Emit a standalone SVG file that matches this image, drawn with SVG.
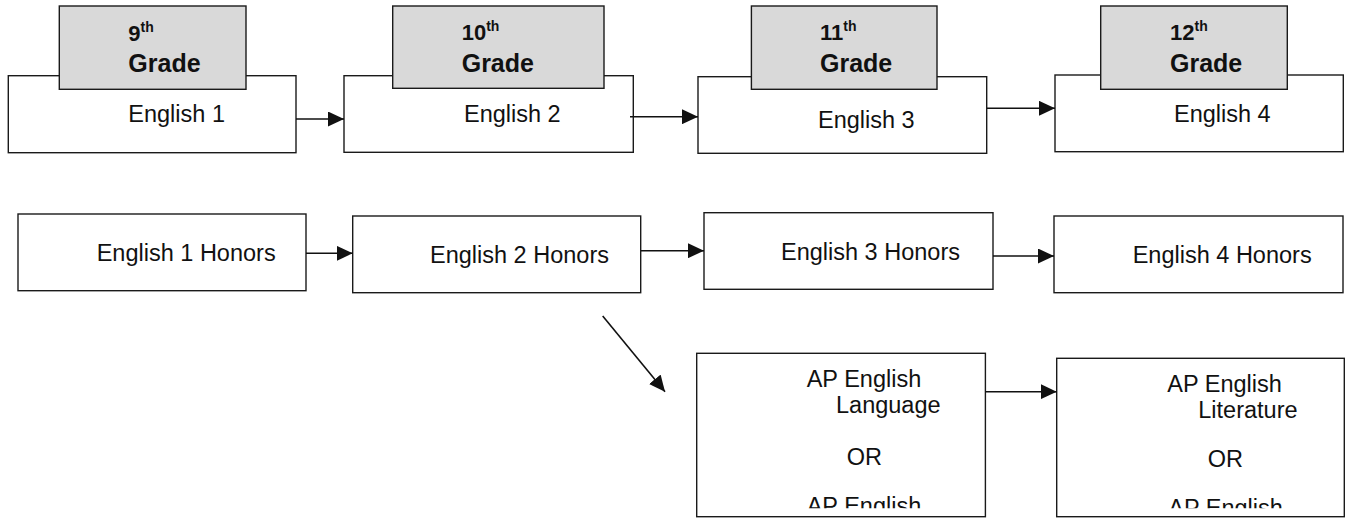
<svg xmlns="http://www.w3.org/2000/svg" width="1346" height="518" viewBox="0 0 1346 518">
<style>
.box{fill:#ffffff;stroke:#1a1a1a;stroke-width:1.4}
.hdr{fill:#d9d9d9;stroke:#1a1a1a;stroke-width:1.4}
.t{font-family:"Liberation Sans",Arial,sans-serif;font-size:23.5px;fill:#111}
.hn{font-family:"Liberation Sans",Arial,sans-serif;font-size:22px;font-weight:bold;fill:#111}
.hs{font-family:"Liberation Sans",Arial,sans-serif;font-size:14px;font-weight:bold;fill:#111}
.hg{font-family:"Liberation Sans",Arial,sans-serif;font-size:25px;font-weight:bold;fill:#111}
.c{fill:none;stroke:#111;stroke-width:1.6}
</style>
<defs>
<marker id="ah" markerUnits="userSpaceOnUse" markerWidth="16" markerHeight="15" refX="16" refY="7.5" orient="auto">
<path d="M0,0 L16,7.5 L0,15 z" fill="#111"/>
</marker>
<clipPath id="clip1"><rect x="690" y="350" width="300" height="158.3"/></clipPath>
<clipPath id="clip2"><rect x="1050" y="350" width="296" height="158.3"/></clipPath>
</defs>
<rect width="1346" height="518" fill="#ffffff"/>

<g id="english1">
<rect class="box" x="8.3" y="75.7" width="287.7" height="77"/>
<text class="t" x="128.3" y="121.7">English 1</text>
</g>
<g id="grade9">
<rect class="hdr" x="59.3" y="6" width="186.7" height="83.3"/>
<text class="hn" x="128.3" y="40.7">9<tspan class="hs" dy="-9">th</tspan></text>
<text class="hg" x="128.3" y="71.7">Grade</text>
</g>

<g id="english2">
<rect class="box" x="344" y="75.7" width="289.3" height="76.6"/>
<text class="t" x="464" y="121.7">English 2</text>
</g>
<g id="grade10">
<rect class="hdr" x="392.7" y="6" width="211.3" height="82.3"/>
<text class="hn" x="461.7" y="40">10<tspan class="hs" dy="-9">th</tspan></text>
<text class="hg" x="461.7" y="71.7">Grade</text>
</g>

<g id="english3">
<rect class="box" x="698" y="76.7" width="288.7" height="76.6"/>
<text class="t" x="818" y="128.3">English 3</text>
</g>
<g id="grade11">
<rect class="hdr" x="751.4" y="6" width="185.6" height="83.3"/>
<text class="hn" x="820" y="40">11<tspan class="hs" dy="-9">th</tspan></text>
<text class="hg" x="820" y="71.7">Grade</text>
</g>

<g id="english4">
<rect class="box" x="1055" y="75" width="288.3" height="76.7"/>
<text class="t" x="1174" y="121.7">English 4</text>
</g>
<g id="grade12">
<rect class="hdr" x="1100.7" y="6" width="186.6" height="83.3"/>
<text class="hn" x="1170" y="40">12<tspan class="hs" dy="-9">th</tspan></text>
<text class="hg" x="1170" y="71.7">Grade</text>
</g>

<g id="english1honors">
<rect class="box" x="18" y="214" width="288" height="76.7"/>
<text class="t" x="96.7" y="261">English 1 Honors</text>
</g>
<g id="english2honors">
<rect class="box" x="352.7" y="216" width="288" height="76.7"/>
<text class="t" x="430" y="263.3">English 2 Honors</text>
</g>
<g id="english3honors">
<rect class="box" x="704" y="212.7" width="289" height="76.6"/>
<text class="t" x="781" y="260">English 3 Honors</text>
</g>
<g id="english4honors">
<rect class="box" x="1054" y="216" width="289" height="76.7"/>
<text class="t" x="1132.7" y="263.3">English 4 Honors</text>
</g>

<g id="aplanguage">
<rect class="box" x="696.7" y="353.3" width="288.7" height="163.4"/>
<g clip-path="url(#clip1)">
<text class="t" x="806.7" y="387.3">AP English</text>
<text class="t" x="836" y="413.3">Language</text>
<text class="t" x="846.7" y="465">OR</text>
<text class="t" x="806.7" y="513.5">AP English</text>
</g>
</g>
<g id="apliterature">
<rect class="box" x="1056.7" y="358.3" width="287.6" height="158.4"/>
<g clip-path="url(#clip2)">
<text class="t" x="1167.3" y="391.7">AP English</text>
<text class="t" x="1198.3" y="418.3">Literature</text>
<text class="t" x="1207.7" y="467.3">OR</text>
<text class="t" x="1168.3" y="516">AP English</text>
</g>
</g>

<g id="connectors">
<line class="c" x1="296" y1="119" x2="344" y2="119" marker-end="url(#ah)"/>
<line class="c" x1="630" y1="116.7" x2="698" y2="116.7" marker-end="url(#ah)"/>
<line class="c" x1="987" y1="108.3" x2="1055" y2="108.3" marker-end="url(#ah)"/>
<line class="c" x1="306" y1="253.3" x2="352.7" y2="253.3" marker-end="url(#ah)"/>
<line class="c" x1="641" y1="250.7" x2="704" y2="250.7" marker-end="url(#ah)"/>
<line class="c" x1="993" y1="256" x2="1054" y2="256" marker-end="url(#ah)"/>
<line class="c" x1="602.7" y1="316" x2="665" y2="391.7" marker-end="url(#ah)"/>
<line class="c" x1="985.4" y1="391.7" x2="1056.7" y2="391.7" marker-end="url(#ah)"/>
</g>
</svg>
